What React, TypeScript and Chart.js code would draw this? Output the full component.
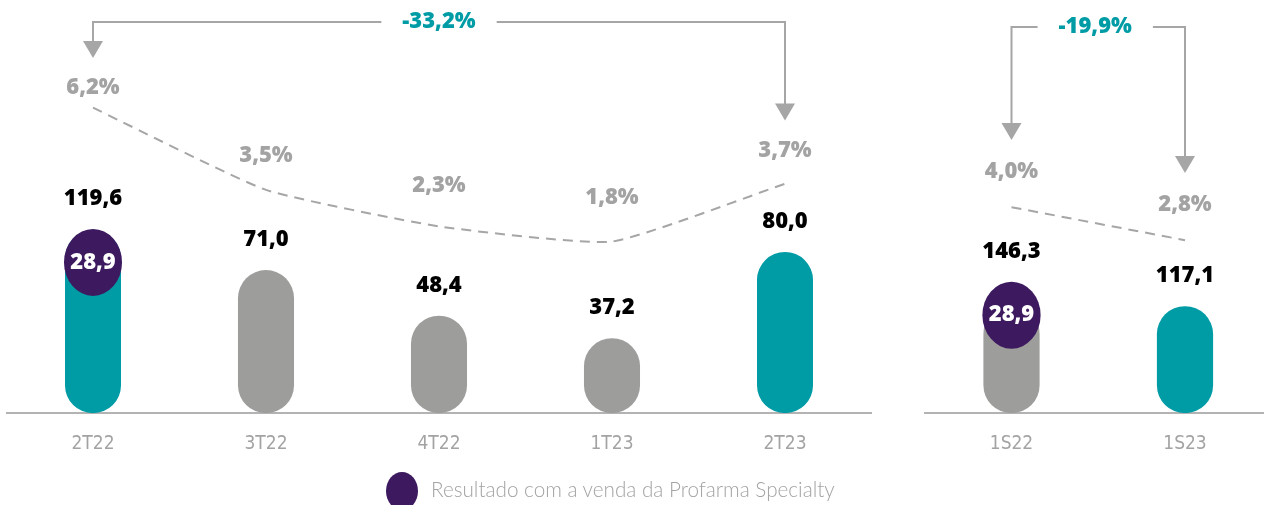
import React, { useEffect, useRef } from "react";
import { Chart, registerables } from "chart.js";
Chart.register(...registerables);

// ---------- data ----------
const quarterLabels = ["2T22", "3T22", "4T22", "1T23", "2T23"];
const quarterTotals = [119.6, 71.0, 48.4, 37.2, 80.0];
const quarterSpecialty: (number | null)[] = [28.9, null, null, null, null];
const quarterMargin = [6.2, 3.5, 2.3, 1.8, 3.7];
const quarterVariation = "-33,2%";

const semesterLabels = ["1S22", "1S23"];
const semesterTotals = [146.3, 117.1];
const semesterSpecialty: (number | null)[] = [28.9, null];
const semesterMargin = [4.0, 2.8];
const semesterVariation = "-19,9%";

const legendText = "Resultado com a venda da Profarma Specialty";

// ---------- styles ----------
const TEAL = "#009ca6";
const GRAY_BAR = "#9d9d9c";
const PURPLE = "#3d1a5f";
const GRAY_TEXT = "#a3a3a3";
const LINE_GRAY = "#a6a6a6";
const AXIS_GRAY = "#b3b3b3";
const BOLD = "800 22px 'Open Sans', 'DejaVu Sans', sans-serif";

const fmt = (v: number) => v.toFixed(1).replace(".", ",");

const decorPlugin = {
  id: "decor",
  afterDatasetsDraw(chart: any, _args: any, opts: any) {
    const ctx = chart.ctx as CanvasRenderingContext2D;
    const barMeta = chart.getDatasetMeta(0);
    const lineMeta = chart.getDatasetMeta(1);
    const yl = chart.scales.yl;
    const { totals, specialty, margins, bracket } = opts;
    ctx.save();
    ctx.font = BOLD;
    ctx.textAlign = "center";
    ctx.textBaseline = "middle";

    // specialty circles and total labels
    barMeta.data.forEach((bar: any, i: number) => {
      const { x, y, width } = bar.getProps(["x", "y", "width"], true);
      let top = y;
      const s = specialty[i];
      if (s != null) {
        const cy = y + opts.circleOffset;
        const rx = width / 2 + 1;
        const ry = opts.circleRy;
        ctx.fillStyle = PURPLE;
        ctx.beginPath();
        ctx.ellipse(x, cy, rx, ry, 0, 0, Math.PI * 2);
        ctx.fill();
        ctx.fillStyle = "#ffffff";
        ctx.fillText(fmt(s), x, cy);
        top = Math.min(top, cy - ry);
      }
      ctx.fillStyle = "#000000";
      ctx.fillText(fmt(totals[i]), x, top - opts.valueGap);
    });

    // margin labels
    lineMeta.data.forEach((pt: any, i: number) => {
      const ly = yl.getPixelForValue(margins[i]);
      ctx.fillStyle = GRAY_TEXT;
      ctx.fillText(fmt(margins[i]) + "%", pt.x, ly);
    });

    // bracket with arrows
    const xa = lineMeta.data[bracket.from].x;
    const xb = lineMeta.data[bracket.to].x;
    const ta = yl.getPixelForValue(margins[bracket.from]) - bracket.tipGap;
    const tb = yl.getPixelForValue(margins[bracket.to]) - bracket.tipGap;
    const w = ctx.measureText(bracket.text).width;
    const cx = (xa + xb) / 2 + (bracket.shift || 0);
    const by = bracket.y;
    const hh = 17;
    const hw = 10;
    ctx.strokeStyle = LINE_GRAY;
    ctx.lineWidth = 2;
    ctx.beginPath();
    ctx.moveTo(cx - w / 2 - bracket.gap, by);
    ctx.lineTo(xa, by);
    ctx.lineTo(xa, ta - hh + 1);
    ctx.moveTo(cx + w / 2 + bracket.gap, by);
    ctx.lineTo(xb, by);
    ctx.lineTo(xb, tb - hh + 1);
    ctx.stroke();
    ctx.fillStyle = LINE_GRAY;
    [
      [xa, ta],
      [xb, tb],
    ].forEach(([ax, ay]) => {
      ctx.beginPath();
      ctx.moveTo(ax - hw, ay - hh);
      ctx.lineTo(ax + hw, ay - hh);
      ctx.lineTo(ax, ay);
      ctx.closePath();
      ctx.fill();
    });
    ctx.fillStyle = TEAL;
    ctx.fillText(bracket.text, cx, by);
    ctx.restore();
  },
};

function makeConfig(p: {
  labels: string[];
  totals: number[];
  specialty: (number | null)[];
  margins: number[];
  colors: string[];
  yMax: number;
  y1: [number, number];
  yl: [number, number];
  padLeft: number;
  padRight: number;
  tension: number;
  circleOffset: number;
  bracket: any;
}) {
  const barValues = p.totals.map((t, i) => +(t - (p.specialty[i] ?? 0)).toFixed(1));
  return {
    type: "bar" as const,
    data: {
      labels: p.labels,
      datasets: [
        {
          type: "bar" as const,
          data: barValues,
          backgroundColor: p.colors,
          borderRadius: 28,
          borderSkipped: false,
          barPercentage: 0.324,
          categoryPercentage: 1,
          yAxisID: "y",
          order: 2,
        },
        {
          type: "line" as const,
          data: p.margins,
          borderColor: LINE_GRAY,
          borderWidth: 2,
          borderDash: [10, 7],
          pointRadius: 0,
          tension: p.tension,
          fill: false,
          yAxisID: "y1",
          order: 1,
        },
      ],
    },
    options: {
      responsive: false,
      animation: false,
      events: [],
      devicePixelRatio: 1,
      layout: { padding: { left: p.padLeft, right: p.padRight, top: 0, bottom: 31 } },
      plugins: {
        legend: { display: false },
        tooltip: { enabled: false },
        decor: {
          totals: p.totals,
          specialty: p.specialty,
          margins: p.margins,
          circleOffset: p.circleOffset,
          circleRy: 33.5,
          valueGap: 30,
          bracket: p.bracket,
        },
      },
      scales: {
        x: {
          offset: true,
          grid: { display: false, drawTicks: false },
          border: { display: true, color: AXIS_GRAY, width: 2 },
          ticks: {
            color: GRAY_TEXT,
            padding: 19,
            font: { family: "'Liberation Sans Narrow', 'DejaVu Sans Condensed', sans-serif", size: 19 },
          },
        },
        y: { display: false, min: 0, max: p.yMax },
        y1: { display: false, min: p.y1[0], max: p.y1[1] },
        yl: { display: false, min: p.yl[0], max: p.yl[1] },
      },
    },
    plugins: [decorPlugin],
  };
}

function ChartCanvas({ config, width, height, left }: any) {
  const ref = useRef<HTMLCanvasElement>(null);
  useEffect(() => {
    if (!ref.current) return;
    const chart = new Chart(ref.current, config as any);
    return () => chart.destroy();
  }, []);
  return (
    <canvas
      ref={ref}
      width={width}
      height={height}
      style={{ position: "absolute", left, top: 0, width, height }}
    />
  );
}

export default function App() {
  const leftConfig = makeConfig({
    labels: quarterLabels,
    totals: quarterTotals,
    specialty: quarterSpecialty,
    margins: quarterMargin,
    colors: quarterLabels.map((_, i) => (i === 0 || i === quarterLabels.length - 1 ? TEAL : GRAY_BAR)),
    yMax: 205,
    y1: [-3.84, 9.74],
    yl: [-6.8, 9.72],
    padLeft: 6.5,
    padRight: 8.5,
    tension: 0.15,
    circleOffset: 32,
    bracket: { from: 0, to: quarterLabels.length - 1, text: quarterVariation, y: 22, gap: 21, tipGap: 30 },
  });
  const rightConfig = makeConfig({
    labels: semesterLabels,
    totals: semesterTotals,
    specialty: semesterSpecialty,
    margins: semesterMargin,
    colors: semesterLabels.map((_, i) => (i === semesterLabels.length - 1 ? TEAL : GRAY_BAR)),
    yMax: 452,
    y1: [-3.49, 11.53],
    yl: [-4.76, 10.25],
    padLeft: 4.75,
    padRight: 8.25,
    tension: 0,
    circleOffset: 9.3,
    bracket: { from: 0, to: 1, text: semesterVariation, y: 27, gap: 21, tipGap: 32, shift: -3 },
  });

  return (
    <div
      style={{
        position: "fixed",
        left: 0,
        top: 0,
        width: 1264,
        height: 505,
        overflow: "hidden",
        background: "#ffffff",
      }}
    >
      <ChartCanvas config={leftConfig} width={880} height={505} left={0} />
      <ChartCanvas config={rightConfig} width={360} height={505} left={920} />
      <div
        style={{
          position: "absolute",
          left: 386,
          top: 472,
          width: 32,
          height: 38,
          borderRadius: "50%",
          background: PURPLE,
        }}
      />
      <div
        style={{
          position: "absolute",
          left: 431,
          top: 477,
          fontFamily: "Lato, 'Open Sans', sans-serif",
          fontWeight: 300,
          fontSize: 20.7,
          lineHeight: "24px",
          color: GRAY_TEXT,
          whiteSpace: "nowrap",
        }}
      >
        {legendText}
      </div>
    </div>
  );
}
